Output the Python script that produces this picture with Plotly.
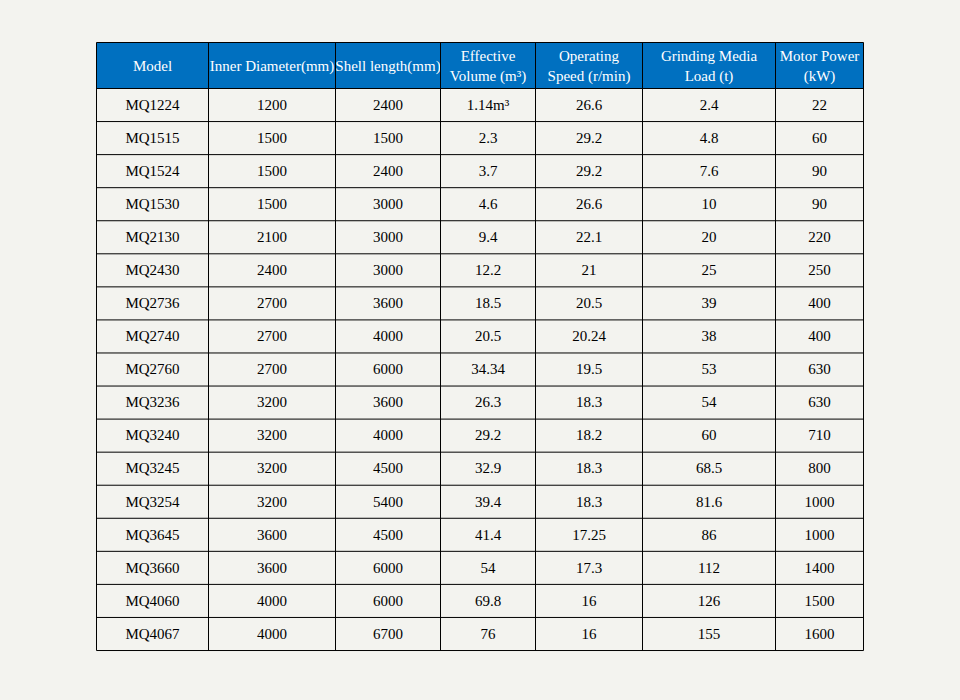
import numpy as np
import plotly.graph_objects as go

headers = ["Model", "Inner Diameter(mm)", "Shell length(mm)", "Effective<br>Volume (m³)",
           "Operating<br>Speed (r/min)", "Grinding Media<br>Load (t)", "Motor Power<br>(kW)"]
models = ["MQ1224", "MQ1515", "MQ1524", "MQ1530", "MQ2130", "MQ2430", "MQ2736", "MQ2740", "MQ2760",
          "MQ3236", "MQ3240", "MQ3245", "MQ3254", "MQ3645", "MQ3660", "MQ4060", "MQ4067"]
inner_diameter = [1200, 1500, 1500, 1500, 2100, 2400, 2700, 2700, 2700, 3200, 3200, 3200, 3200, 3600, 3600, 4000, 4000]
shell_length = [2400, 1500, 2400, 3000, 3000, 3000, 3600, 4000, 6000, 3600, 4000, 4500, 5400, 4500, 6000, 6000, 6700]
effective_volume = ["1.14m³", "2.3", "3.7", "4.6", "9.4", "12.2", "18.5", "20.5", "34.34", "26.3", "29.2",
                    "32.9", "39.4", "41.4", "54", "69.8", "76"]
operating_speed = ["26.6", "29.2", "29.2", "26.6", "22.1", "21", "20.5", "20.24", "19.5", "18.3", "18.2",
                   "18.3", "18.3", "17.25", "17.3", "16", "16"]
media_load = ["2.4", "4.8", "7.6", "10", "20", "25", "39", "38", "53", "54", "60", "68.5", "81.6", "86",
              "112", "126", "155"]
motor_power = [22, 60, 90, 90, 220, 250, 400, 400, 630, 630, 710, 800, 1000, 1000, 1400, 1500, 1600]

columns = [models, inner_diameter, shell_length, effective_volume, operating_speed, media_load, motor_power]

# layout (pixels)
col_widths = [112, 127, 105, 95, 107, 133, 88]
HEADER_H = 46.0
ROW_H = 33.06
BG = "#f3f3ef"
BLUE = "#0070c0"
FONT = "Liberation Serif"
PAD = 3  # extra room so outer border lines are not clipped
TEXT_DY = 1.0
HEAD_DY = 1.8

edges = np.concatenate([[0], np.cumsum(col_widths)])
centers = (edges[:-1] + edges[1:]) / 2
n_rows = len(models)
row_edges = np.concatenate([[0], HEADER_H + ROW_H * np.arange(n_rows + 1)])
row_centers = HEADER_H + ROW_H * (np.arange(n_rows) + 0.5)
total_w = edges[-1]
total_h = row_edges[-1]

left_px, top_px = 96.5, 42.5
W, H = 960, 700

fig = go.Figure()

# header text
fig.add_trace(go.Scatter(
    x=centers, y=[HEADER_H / 2 + HEAD_DY] * len(headers), text=headers, mode="text",
    textposition="middle center", textfont=dict(family=FONT, size=15, color="white"),
    hoverinfo="skip", showlegend=False, cliponaxis=False))

# body text
for j, col in enumerate(columns):
    fig.add_trace(go.Scatter(
        x=[centers[j]] * n_rows, y=row_centers + TEXT_DY, text=[str(v) for v in col], mode="text",
        textposition="middle center", textfont=dict(family=FONT, size=15, color="black"),
        hoverinfo="skip", showlegend=False, cliponaxis=False))

shapes = [dict(type="rect", xref="x", yref="y", x0=0, x1=total_w, y0=0, y1=HEADER_H,
               fillcolor=BLUE, line=dict(width=0), layer="below")]
for x in edges:
    shapes.append(dict(type="line", xref="x", yref="y", x0=x, x1=x, y0=0, y1=total_h,
                       line=dict(color="black", width=1)))
for y in row_edges:
    shapes.append(dict(type="line", xref="x", yref="y", x0=0, x1=total_w, y0=y, y1=y,
                       line=dict(color="black", width=1)))

fig.update_layout(
    width=W, height=H, margin=dict(l=0, r=0, t=0, b=0),
    paper_bgcolor=BG, plot_bgcolor=BG, shapes=shapes,
    xaxis=dict(range=[-PAD, total_w + PAD],
               domain=[(left_px - PAD) / W, (left_px + total_w + PAD) / W],
               visible=False, fixedrange=True),
    yaxis=dict(range=[total_h + PAD, -PAD],
               domain=[1 - (top_px + total_h + PAD) / H, 1 - (top_px - PAD) / H],
               visible=False, fixedrange=True),
)
fig.write_html("out.html", config={"displayModeBar": False},
               post_script="document.body.style.margin='0';document.body.style.overflow='hidden';")
